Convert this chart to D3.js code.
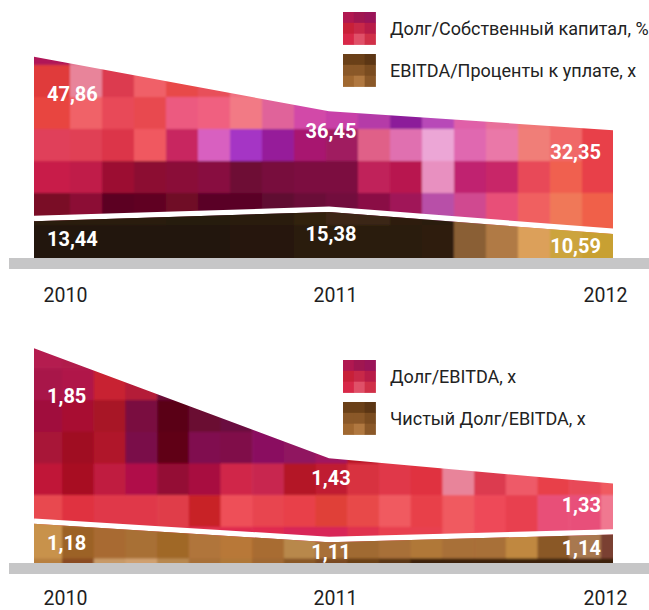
<!DOCTYPE html>
<html><head><meta charset="utf-8">
<script src="https://cdn.jsdelivr.net/npm/d3@7"></script>
<style>html,body{margin:0;padding:0;background:#fff;}svg{display:block;}</style>
</head><body>
<svg id="c" width="649" height="610"></svg>
<script>
// ---------- DATA ----------
const years = [2010, 2011, 2012];
const debtToEquity = [47.86, 36.45, 32.35];        // Долг/Собственный капитал, %
const ebitdaToInterest = [13.44, 15.38, 10.59];    // EBITDA/Проценты к уплате, х
const debtToEbitda = [1.85, 1.43, 1.33];           // Долг/EBITDA, х
const netDebtToEbitda = [1.18, 1.11, 1.14];        // Чистый Долг/EBITDA, х
const legendTop = ["Долг/Собственный капитал, %", "EBITDA/Проценты к уплате, х"];
const legendBottom = ["Долг/EBITDA, х", "Чистый Долг/EBITDA, х"];

// ---------- STYLE: mosaic textures ----------
const topPink = [
["#b01858","#e07090","#d83050","#e84a58","#e84848","#e8505a","#f07080","#e0649a","#d24aa8","#c840a8","#b53aa8","#8c1c9a","#b848b8","#e060a8","#e8709a","#f07878","#f06a6a","#e83a40"],
["#e03a3a","#e8849a","#dc3a50","#f06068","#e84848","#e8505a","#f07080","#e0649a","#d24aa8","#c840a8","#b53aa8","#8c1c9a","#b848b8","#e060a8","#e8709a","#f07878","#f06a6a","#e83a40"],
["#e8453f","#f06268","#e84a58","#e84850","#ec5a80","#f06080","#f27a85","#e0649a","#d24aa8","#c840a8","#b53aa8","#8c1c9a","#b848b8","#e060a8","#e8709a","#f07878","#f06a6a","#e83a40"],
["#e0405a","#e04055","#dc3448","#f05860","#c82560","#d860c0","#a535c5","#961a9a","#a81870","#a01a60","#e06088","#e070b0","#eca6d6","#e068b0","#ea78a8","#f07e78","#f06868","#e84048"],
["#c81e48","#c01e4a","#9c0a30","#8c0830","#8a0a38","#880c40","#6e0a34","#780a3c","#7c0a40","#7c0a40","#c0205a","#b81850","#e890c0","#c02070","#c82868","#e84a58","#f06050","#e84048"],
["#7a0a28","#8c0c34","#5c0020","#600020","#700828","#5a0028","#5a0428","#600a30","#6a0a38","#720a3c","#8a0c44","#a01458","#b850a8","#d04890","#e85078","#f06060","#f07858","#f06048"]
];
const topBrown = [
["#2a1a0c","#2a1a0c","#2a1a0c","#2a1a0c","#281a0a","#281a0a","#2a1a0a","#2c1c0c","#30200e","#3c2812","#3a2612","#2e1c0c","#2c1a0a","#8a5e34","#b07a44","#dca05a","#cca43c","#c8a030"],
["#22150a","#24160a","#22140a","#22140a","#24160a","#24160a","#26180a","#26180a","#2a1a0c","#2c1c0c","#2a1a0c","#2a1a0a","#2e1c0c","#8a5e34","#b07a44","#dca05a","#cca43c","#c8a030"]
];
const bottomPink = [
["#b41a50","#b01a4c","#c82030","#b01a38","#9a1040","#8a0a40","#800a48","#8a1060","#901460","#a01860","#b81428","#e03848","#e03040","#e8849a","#dc3a50","#ee5a68","#e84048","#e84858","#f05a60"],
["#a8184a","#b01848","#c82030","#b41a38","#6a0a38","#5a0020","#6a0a40","#8a1060","#901460","#a01860","#b81428","#e03848","#e03040","#e8849a","#dc3a50","#ee5a68","#e84048","#e84858","#f05a60"],
["#a0103c","#a81030","#a81828","#7a0a40","#5a0018","#6a0a30","#6a0a40","#8a1060","#901460","#a01860","#b81428","#e03848","#e03040","#e8849a","#dc3a50","#ee5a68","#e84048","#e84858","#f05a60"],
["#a81438","#a00a20","#b0142a","#7a0a48","#600018","#800c50","#800a48","#8a1060","#901460","#a01860","#b81428","#e03848","#e03040","#e8849a","#dc3a50","#ee5a68","#e84048","#e84858","#f05a60"],
["#c01838","#a80a20","#c01a40","#b0104a","#940a34","#a81040","#d02848","#c82850","#b41428","#c01a30","#d83040","#e03848","#e03040","#e8849a","#dc3a50","#ee5a68","#e84048","#e84858","#f05a60"],
["#e84850","#e03040","#e03848","#e03848","#e03c48","#c82028","#ee5058","#e84450","#e84048","#e04038","#e84848","#f05a60","#e84048","#f05a60","#ee4858","#e84050","#e85078","#e8507a","#f07890"],
["#e84050","#e84050","#e84050","#e04050","#e03850","#e03050","#e02c50","#e02c50","#d82858","#d82858","#e03050","#e84050","#e84050","#f05a60","#ee4858","#e84050","#e85078","#e8507a","#f07890"]
];
const bottomBrown = [
["#c89048","#a86c30","#a86c30","#a87038","#a06428","#b07838","#b87838","#a86c30","#b8884c","#a87038","#a06a30","#a87038","#b07838","#a87038","#a87038","#c08840","#8a5828","#a87850","#7a4030"],
["#c8924c","#9c6228","#a86a30","#a87036","#a06828","#b0743a","#b87838","#a86c30","#b8884c","#a87038","#a06a30","#a87038","#b07838","#a87038","#a87038","#c08840","#8a5828","#a87850","#7a4030"],
["#b88040","#8a4c20","#c89a68","#d0a070","#b88850","#a87038","#b07838","#a06830","#8a5828","#7a4a20","#6a4018","#5a3412","#3c2410","#3c2410","#3c2410","#3c2410","#3c2410","#3c2410","#3c2410"]
];
const pinkSwatch = [["#b01850","#a01650","#9a1458"],["#c82038","#c82848","#b81c48"],["#d82848","#e05068","#d03048"]];
const brownSwatch = [["#6a4018","#6a4018","#5c3614"],["#8a5828","#8a5828","#7a4c20"],["#a06830","#b07840","#8a5828"]];

// ---------- DRAW ----------
const fmt = d3.formatLocale({decimal: ",", thousands: " ", grouping: [3], currency: ["", ""]}).format(".2f");
const svg = d3.select("#c");
const defs = svg.append("defs");
defs.append("filter").attr("id", "soft").attr("x", "-5%").attr("y", "-5%").attr("width", "110%").attr("height", "110%")
  .append("feGaussianBlur").attr("stdDeviation", 0.9);

const FONT = "Roboto, 'Open Sans', 'DejaVu Sans', sans-serif";

function mosaic(g, grid, colX0, tile, rowY0) {
  const inner = g.append("g").attr("filter", "url(#soft)");
  const nr = grid.length;
  grid.forEach((row, r) => {
    const nc = row.length;
    row.forEach((col, j) => {
      const x0 = j === 0 ? 10 : colX0 + (j - 1) * tile;
      const x1 = j === nc - 1 ? 640 : colX0 + j * tile;
      const y0 = r === 0 ? rowY0 - 80 : rowY0 + r * tile;
      const y1 = r === nr - 1 ? rowY0 + (r + 1) * tile + 80 : rowY0 + (r + 1) * tile;
      inner.append("rect").attr("x", x0).attr("y", y0)
        .attr("width", x1 - x0 + 0.6).attr("height", y1 - y0 + 0.6).attr("fill", col);
    });
  });
}

function swatch(g, grid, x0, y0, size) {
  const t = size / 3;
  const inner = g.append("g");
  grid.forEach((row, r) => row.forEach((col, j) => {
    inner.append("rect").attr("x", x0 + j * t).attr("y", y0 + r * t)
      .attr("width", t + 0.4).attr("height", t + 0.4).attr("fill", col);
  }));
}

function drawChart(cfg) {
  const x = d3.scaleLinear().domain([years[0], years[years.length - 1]]).range([34, 624]);
  const y = d3.scaleLinear().domain(cfg.domain).range(cfg.range);
  const id = cfg.id;
  defs.append("clipPath").attr("id", id + "-frame").append("rect")
    .attr("x", 34).attr("y", 0).attr("width", 579).attr("height", 610);
  const area = d3.area().x((d, i) => x(years[i])).y0(cfg.base).y1(d => y(d));
  defs.append("clipPath").attr("id", id + "-up").append("path").attr("d", area(cfg.upper));
  defs.append("clipPath").attr("id", id + "-lo").append("path").attr("d", area(cfg.lower));

  const frame = svg.append("g").attr("clip-path", `url(#${id}-frame)`);
  mosaic(frame.append("g").attr("clip-path", `url(#${id}-up)`), cfg.upGrid, cfg.colX0, cfg.tile, cfg.upRow0);
  const line = d3.line().x((d, i) => x(years[i])).y(d => y(d));
  frame.append("path").attr("d", line(cfg.lower)).attr("transform", "translate(0,-2.7)")
    .attr("fill", "none").attr("stroke", "#fff").attr("stroke-width", 5.4);
  mosaic(frame.append("g").attr("clip-path", `url(#${id}-lo)`), cfg.loGrid, cfg.colX0, cfg.tile, cfg.loRow0);

  // baseline bar
  svg.append("rect").attr("x", 9).attr("y", cfg.base).attr("width", 640).attr("height", 11).attr("fill", "#c6c6c7");

  // value labels
  const anchors = ["start", "middle", "end"];
  const dx = [13, 2, -23];
  const labels = svg.append("g").attr("font-family", FONT).attr("font-weight", 700)
    .attr("font-size", 20).attr("fill", "#fff");
  cfg.upper.forEach((v, i) => {
    const top = y(v), band = (y(cfg.lower[i]) - 5) - top;
    labels.append("text").attr("x", x(years[i]) + dx[i]).attr("y", top + Math.max(27, cfg.frac * band))
      .attr("text-anchor", anchors[i]).text(fmt(v));
  });
  cfg.lower.forEach((v, i) => {
    labels.append("text").attr("x", x(years[i]) + dx[i]).attr("y", (y(v) + cfg.base) / 2 + 6.5)
      .attr("text-anchor", anchors[i]).text(fmt(v));
  });

  // year axis
  const xl = d3.scalePoint().domain(years).range([65, 605]);
  const ax = svg.append("g").attr("transform", `translate(0,${cfg.base + 11})`)
    .call(d3.axisBottom(xl).tickSize(0).tickFormat(d3.format("d")));
  ax.select(".domain").remove();
  ax.selectAll("text").attr("y", cfg.yearY).attr("dy", null)
    .attr("font-family", FONT).attr("font-size", 19.5).attr("fill", "#1e1e1e");

  // legend
  const lg = svg.append("g");
  cfg.legend.forEach((name, i) => {
    const ly = cfg.legendY[i];
    swatch(lg, i === 0 ? pinkSwatch : brownSwatch, 343, ly, 32.5);
    lg.append("text").attr("x", 390).attr("y", ly + 16 + 6.5)
      .attr("font-family", FONT).attr("font-size", 18).attr("fill", "#222").text(name);
  });
}

drawChart({
  id: "top", upper: debtToEquity, lower: ebitdaToInterest,
  domain: [0, 50], range: [285.5, 46.5], base: 258, frac: 0.28, yearY: 33,
  upGrid: topPink, loGrid: topBrown, colX0: 70, tile: 32, upRow0: 33, loRow0: 193,
  legend: legendTop, legendY: [12, 54]
});
drawChart({
  id: "bot", upper: debtToEbitda, lower: netDebtToEbitda,
  domain: [0, 2], range: [833, 309], base: 563, frac: 0.32, yearY: 30.5,
  upGrid: bottomPink, loGrid: bottomBrown, colX0: 62, tile: 31.7, upRow0: 336.6, loRow0: 495.1,
  legend: legendBottom, legendY: [360, 402]
});
</script>
</body></html>
